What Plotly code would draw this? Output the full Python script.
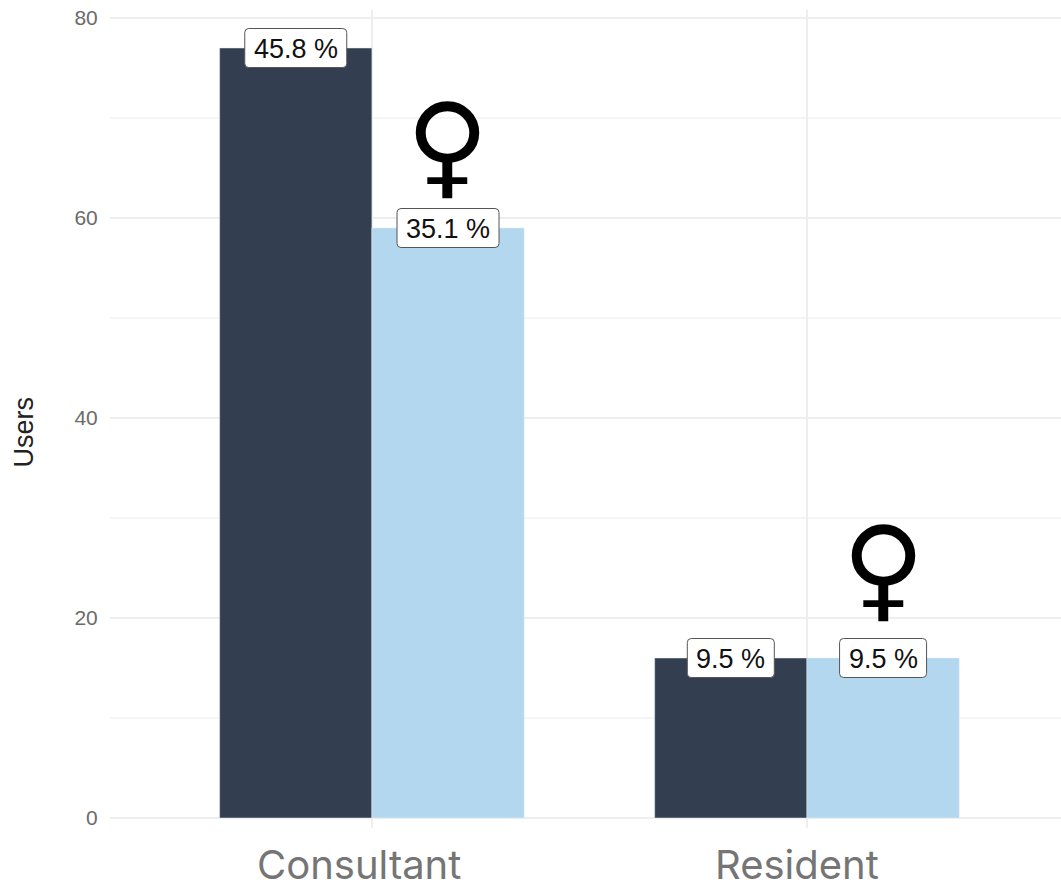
import plotly.graph_objects as go

categories = ["Consultant", "Resident"]
positions = [0, 1]
male_users = [77, 16]
female_users = [59, 16]
male_labels = ["45.8 %", "9.5 %"]
female_labels = ["35.1 %", "9.5 %"]

DARK = "#333F50"
LIGHT = "#B3D7EE"
BAR_WIDTH = 0.35


def rounded_box(w, h, r=4):
    x, y = w / 2, h / 2
    return (
        f"M{-x + r},{-y} L{x - r},{-y} Q{x},{-y} {x},{-y + r} "
        f"L{x},{y - r} Q{x},{y} {x - r},{y} L{-x + r},{y} "
        f"Q{-x},{y} {-x},{y - r} L{-x},{-y + r} Q{-x},{-y} {-x + r},{-y} Z"
    )


fig = go.Figure()
fig.add_trace(go.Bar(x=positions, y=male_users, name="Male", marker_color=DARK,
                     width=BAR_WIDTH, offset=-BAR_WIDTH))
fig.add_trace(go.Bar(x=positions, y=female_users, name="Female", marker_color=LIGHT,
                     width=BAR_WIDTH, offset=0))

# value labels sit centred on top of each bar
label_rows = [(p - BAR_WIDTH / 2, v, t) for p, v, t in zip(positions, male_users, male_labels)]
label_rows += [(p + BAR_WIDTH / 2, v, t) for p, v, t in zip(positions, female_users, female_labels)]
for x, v, t in label_rows:
    w = 102 if len(t) > 5 else 87
    fig.add_shape(type="path", xref="x", yref="y", xsizemode="pixel", ysizemode="pixel",
                  xanchor=x, yanchor=v, path=rounded_box(w, 39), fillcolor="white",
                  line=dict(color="#555555", width=1), layer="above")
    fig.add_annotation(x=x, y=v, text=t, showarrow=False, yshift=-1,
                       font=dict(family="Liberation Sans", size=27, color="#111111"))

# female symbol above the light bars
for p, v, shift in zip(positions, female_users, [15, 22]):
    fig.add_annotation(x=p + BAR_WIDTH / 2, y=v, text="♀", showarrow=False, yanchor="bottom",
                       xshift=-1 if p == 0 else 0, yshift=shift,
                       font=dict(family="DejaVu Sans", size=113, color="black"))

# category labels sit a little left of the ticks in the original
for p, name, shift in zip(positions, categories, [-12.5, -9.5]):
    fig.add_annotation(x=p, y=0, yref="paper", yanchor="top", yshift=-10, xshift=shift,
                       text=name, showarrow=False,
                       font=dict(family="Inter", size=40, color="#757575"))

fig.add_annotation(x=0, xref="paper", y=0.5, yref="paper", xshift=-87 - 16.5, yshift=-13,
                   text="Users", textangle=-90, showarrow=False,
                   font=dict(family="Liberation Sans", size=27, color="#222222"))

fig.update_layout(
    width=1061, height=888, showlegend=False, barmode="overlay",
    plot_bgcolor="white", paper_bgcolor="white",
    margin=dict(l=110, r=0, t=10, b=60),
    xaxis=dict(range=[-0.602, 1.584], tickvals=positions, showticklabels=False,
               showgrid=True, gridcolor="#EEEEEE", gridwidth=2, zeroline=False, automargin=False),
    yaxis=dict(range=[-1, 80.8], tickvals=[0, 20, 40, 60, 80],
               showgrid=True, gridcolor="#EEEEEE", gridwidth=2, zeroline=False, automargin=False,
               minor=dict(dtick=10, showgrid=True, gridcolor="#F5F5F5", gridwidth=2),
               ticks="outside", ticklen=7, tickcolor="rgba(0,0,0,0)",
               tickfont=dict(family="Liberation Sans", size=21, color="#6B6B6B")),
)

fig.write_html("out.html", post_script="document.body.style.margin='0';",
               config={"displayModeBar": False})
